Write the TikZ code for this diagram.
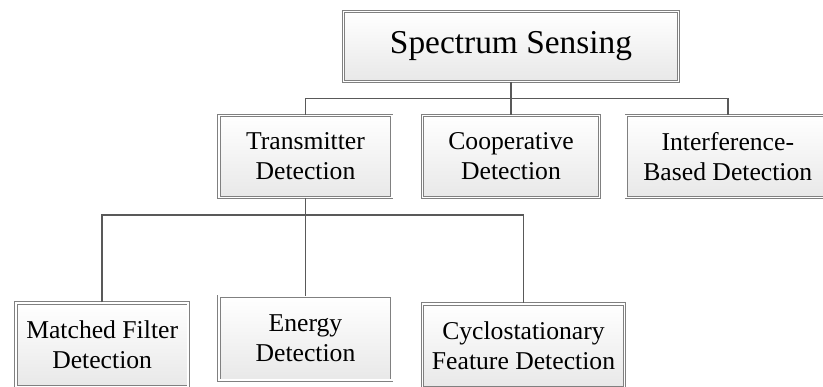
\documentclass[tikz,border=0pt]{standalone}
\usepackage{fontspec}
\setmainfont{Liberation Serif}
\usetikzlibrary{
	positioning,calc,shadows
}
\newcommand{\rowfont}{\fontsize{14.6pt}{17pt}\selectfont}
\newcommand{\rootfont}{\fontsize{19pt}{22pt}\selectfont}
\tikzset{
	method/.style={
		rectangle, minimum width=3.45cm, minimum height=1.64cm, inner sep=1pt,
		draw=black!50, line width=0.45pt, double=white, double distance=1.1pt,
		top color=white, bottom color=black!9, align=center, font=\rowfont,
		drop shadow={opacity=0.25, shadow xshift=0.6pt, shadow yshift=-0.8pt}
	},
	%
	bigmethod/.style={
		method, minimum width=6.70cm, minimum height=1.40cm
	},
	%
	link/.style={
		draw=black!65, line width=0.8pt
	}
}
\begin{document}
\begin{tikzpicture}
    \useasboundingbox (0,0) rectangle (16.46,-7.74);
    \clip (0,0) rectangle (16.46,-7.74);
    \node(sensing)[bigmethod] at (10.22,-0.93){\rootfont Spectrum Sensing};
    \node(coop)[method, minimum width=3.54cm] at (10.22,-3.13){Cooperative\\Detection};
    \node(trans)[method, left=0.6cm of coop]{Transmitter\\Detection};
    \node(interf)[method, minimum width=4.06cm, right=0.52cm of coop]{Interference-\\Based Detection};
    \node(energy)[method, minimum height=1.68cm, below=1.96cm of trans]{Energy\\Detection};
    \node(matched)[method, minimum height=1.68cm, left=0.6cm of energy, yshift=-0.13cm]{Matched Filter\\Detection};
    \node(cyclo)[method, minimum width=4.04cm, minimum height=1.68cm, right=0.6cm of energy, yshift=-0.15cm]{Cyclostationary\\Feature Detection};
    % tree connectors
    \coordinate(split1) at ($(sensing.south)!0.5!(coop.north)$);
    \coordinate(split2) at ([yshift=-0.34cm]trans.south);
    \draw[link] (sensing.south) -- (coop.north);
    \draw[link] (trans.north) |- (split1) -| (interf.north);
    \draw[link] (trans.south) -- (energy.north);
    \draw[link] (matched.north) |- (split2) -| (cyclo.north);
\end{tikzpicture}
\end{document}
